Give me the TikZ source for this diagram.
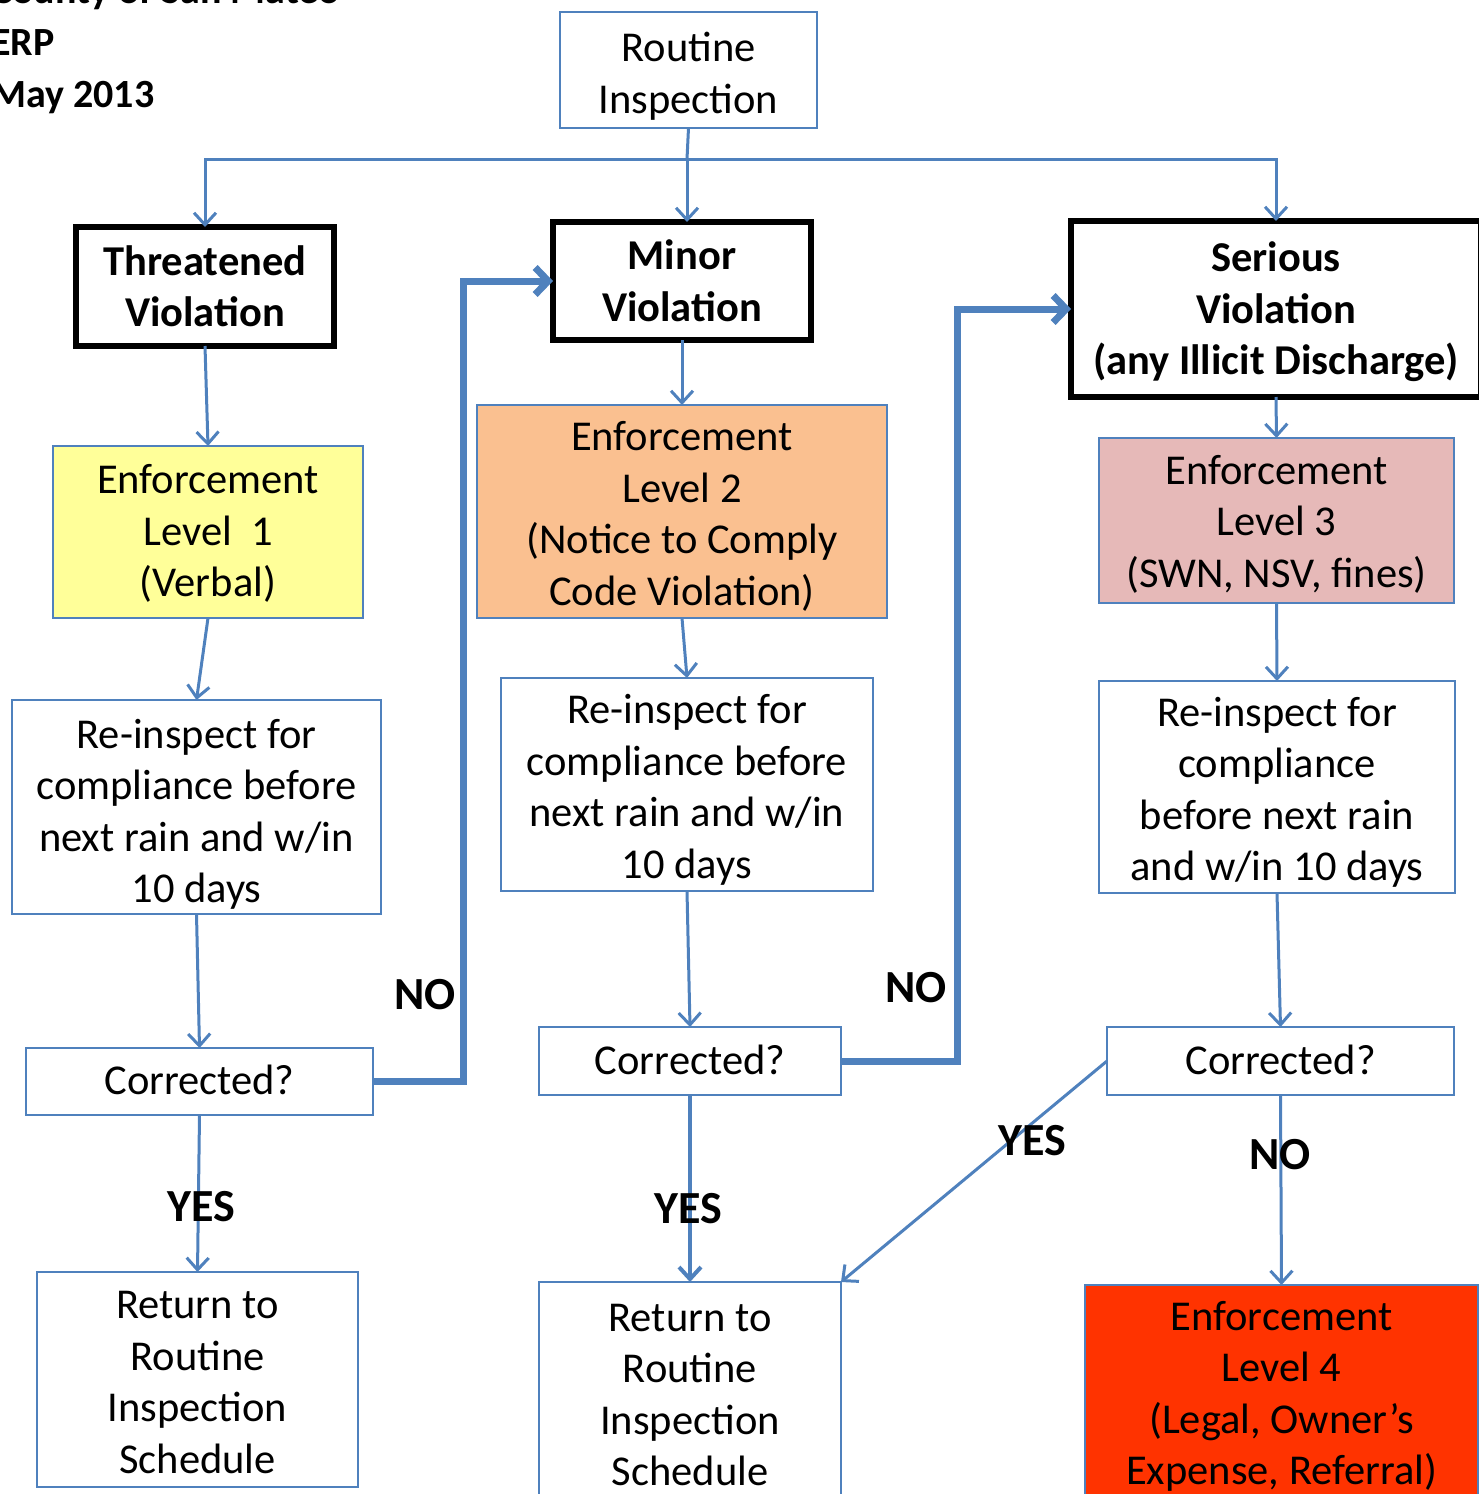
\documentclass[tikz,border=0pt]{standalone}
\usepackage{fontspec}
\setmainfont{Carlito}
\usetikzlibrary{arrows.meta}

\definecolor{ermblue}{HTML}{4F81BD}
\definecolor{lvlone}{HTML}{FFFF99}
\definecolor{lvltwo}{HTML}{FAC090}
\definecolor{lvlthree}{HTML}{E6B9B8}
\definecolor{lvlfour}{HTML}{FF3300}

% stacked lines, set a little low in their box
\newcommand{\boxtext}[2][6pt]{\raisebox{-#1}[\height][\depth]{\begin{tabular}{@{}c@{}}#2\end{tabular}}}

\tikzset{
  basic/.style     = {draw=ermblue, line width=2pt, rectangle, outer sep=0pt,
                      inner sep=0pt, font=\fontsize{42.5}{51.5}\selectfont},
  violation/.style = {basic, draw=black, line width=6pt, font=\fontsize{42.5}{51.5}\selectfont\bfseries},
  enforce/.style   = {basic},
  answer/.style    = {font=\fontsize{46}{50}\selectfont\bfseries, inner sep=0pt},
  flow/.style      = {draw=ermblue, line width=3pt, -{Straight Barb[length=12pt,width=22pt]}},
  bigflow/.style   = {draw=ermblue, line width=7pt, -{Straight Barb[length=13pt,width=27pt]}}
}

\begin{document}
\begin{tikzpicture}[x=1pt, y=-1pt]
\useasboundingbox (0,0) rectangle (1478,1494);

% header, cut by the page edge
\node[anchor=west, align=left, inner sep=0pt, font=\fontsize{40}{52}\selectfont\bfseries]
  (header) at (-9,45) {County of San Mateo\\ERP\\May 2013};

% first level
\node[basic, minimum width=257, minimum height=116] (routine) at (688.5,70) {\boxtext[7pt]{Routine\\Inspection}};
\coordinate (split) at (687,159);

% violation boxes
\node[violation, minimum width=258, minimum height=119] (threat)  at (205,286.5) {\boxtext[4pt]{Threatened\\Violation}};
\node[violation, minimum width=258, minimum height=118] (minor)   at (682,281)   {\boxtext[4pt]{Minor\\Violation}};
\node[violation, minimum width=410, minimum height=176] (serious) at (1276,309)  {\boxtext[4pt]{Serious\\Violation\\(any Illicit Discharge)}};

% enforcement levels
\node[enforce, fill=lvlone,   minimum width=310, minimum height=172] (enf1) at (208,532)      {\boxtext[3pt]{Enforcement\\Level\ \ 1\\(Verbal)}};
\node[enforce, fill=lvltwo,   minimum width=410, minimum height=213] (enf2) at (682,511.5)    {\boxtext{Enforcement\\Level 2\\(Notice to Comply\\Code Violation)}};
\node[enforce, fill=lvlthree, minimum width=355, minimum height=165] (enf3) at (1276.5,520.5) {\boxtext[5pt]{Enforcement\\Level 3\\(SWN, NSV, fines)}};

% re-inspection
\node[basic, minimum width=369, minimum height=214] (re1) at (196.5,807) {\boxtext[8pt]{Re-inspect for\\compliance before\\next rain and w/in\\10 days}};
\node[basic, minimum width=372, minimum height=213] (re2) at (687,784.5) {\boxtext{Re-inspect for\\compliance before\\next rain and w/in\\10 days}};
\node[basic, minimum width=356, minimum height=212] (re3) at (1277,787)  {\boxtext{Re-inspect for\\compliance\\before next rain\\and w/in 10 days}};

% checks
\node[basic, minimum width=347, minimum height=67] (cor1) at (199.5,1081.5) {\boxtext[3pt]{Corrected?}};
\node[basic, minimum width=302, minimum height=68] (cor2) at (690,1061)     {\boxtext[3pt]{Corrected?}};
\node[basic, minimum width=347, minimum height=68] (cor3) at (1280.5,1061)  {\boxtext[3pt]{Corrected?}};

% outcomes
\node[basic, minimum width=321, minimum height=215] (ret1) at (197.5,1379.5) {\boxtext{Return to\\Routine\\Inspection\\Schedule}};
\node[basic, minimum width=302, minimum height=220] (ret2) at (690,1392)     {\boxtext{Return to\\Routine\\Inspection\\Schedule}};
\node[enforce, fill=lvlfour, minimum width=393, minimum height=218] (enf4) at (1281.5,1394) {\boxtext[3pt]{Enforcement\\Level 4\\(Legal, Owner’s\\Expense, Referral)}};

% connectors
\draw[draw=ermblue, line width=3pt] (routine.south) -- (split);
\draw[flow] (split) -| (threat.north);
\draw[flow] (split) -| (serious.north);
\draw[flow] (split) -- (split |- minor.north);

\foreach \from/\to in {threat/enf1, enf1/re1, re1/cor1, cor1/ret1,
                       minor/enf2, enf2/re2, re2/cor2,
                       serious/enf3, enf3/re3, re3/cor3, cor3/enf4}
  \draw[flow] (\from.south) -- (\to.north);
\draw[flow, line width=4pt] (cor2.south) -- (ret2.north);
\draw[flow] (cor3.west) -- (ret2.north east);

\coordinate (noturn1) at (463,1081.5);
\coordinate (noturn2) at (957,1061);
\draw[bigflow] (cor1.east) -- (noturn1) |- (minor.west);
\draw[bigflow] (cor2.east) -- (noturn2) |- (serious.west);

% answers
\node[answer] (no1)  at (425,995)   {NO};
\node[answer] (no2)  at (916,988)   {NO};
\node[answer] (no3)  at (1280,1155) {NO};
\node[answer] (yes1) at (201,1207)  {YES};
\node[answer] (yes2) at (688,1209)  {YES};
\node[answer] (yes3) at (1032,1141) {YES};
\end{tikzpicture}
\end{document}
